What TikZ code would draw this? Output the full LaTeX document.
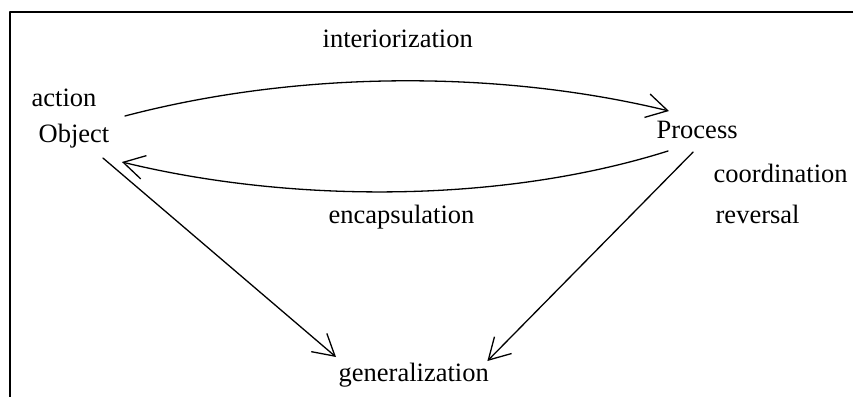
\documentclass[tikz,border=0pt]{standalone}
\usepackage{fontspec}
\setmainfont{Liberation Serif}
\usetikzlibrary{arrows.meta}
\begin{document}
\begin{tikzpicture}[x=1pt, y=-1pt, font=\fontsize{26.5}{31}\selectfont, line join=round, line cap=round, >={Straight Barb[length=21pt,width=24pt]}, line width=1.3pt, lbl/.style={inner sep=0pt, anchor=base west}]
	\useasboundingbox (0,0) rectangle (858,397);
	\draw[line width=2pt, line cap=butt] (853,12) -- (10,12) -- (10,397);
	% Texte
	\node[lbl] (inter) at (322,47) {interiorization};
	\node[lbl] (act) at (31,106) {action};
	\node[lbl] (obj) at (38,142) {Object};
	\node[lbl] (proc) at (656,138) {Process};
	\node[lbl] (coord) at (713,182) {coordination};
	\node[lbl] (rev) at (715,223) {reversal};
	\node[lbl] (enc) at (328,223) {encapsulation};
	\node[lbl] (gen) at (338,381) {generalization};
	% Pfeile
	\draw[->] ([shift={(15,-26)}]obj.base east) .. controls (300,70) and (500,70) .. ([shift={(13,-27)}]proc.base west);
	\draw[->] ([shift={(12,13)}]proc.base west) .. controls (500,204) and (290,203) .. ([shift={(12,20)}]obj.base east);
	\draw[->] ([shift={(-7,16)}]obj.base east) -- ([shift={(-2,-24)}]gen.base west);
	\draw[->] ([shift={(-4,14)}]proc.base) -- ([shift={(-2,-20)}]gen.base east);
\end{tikzpicture}
\end{document}
